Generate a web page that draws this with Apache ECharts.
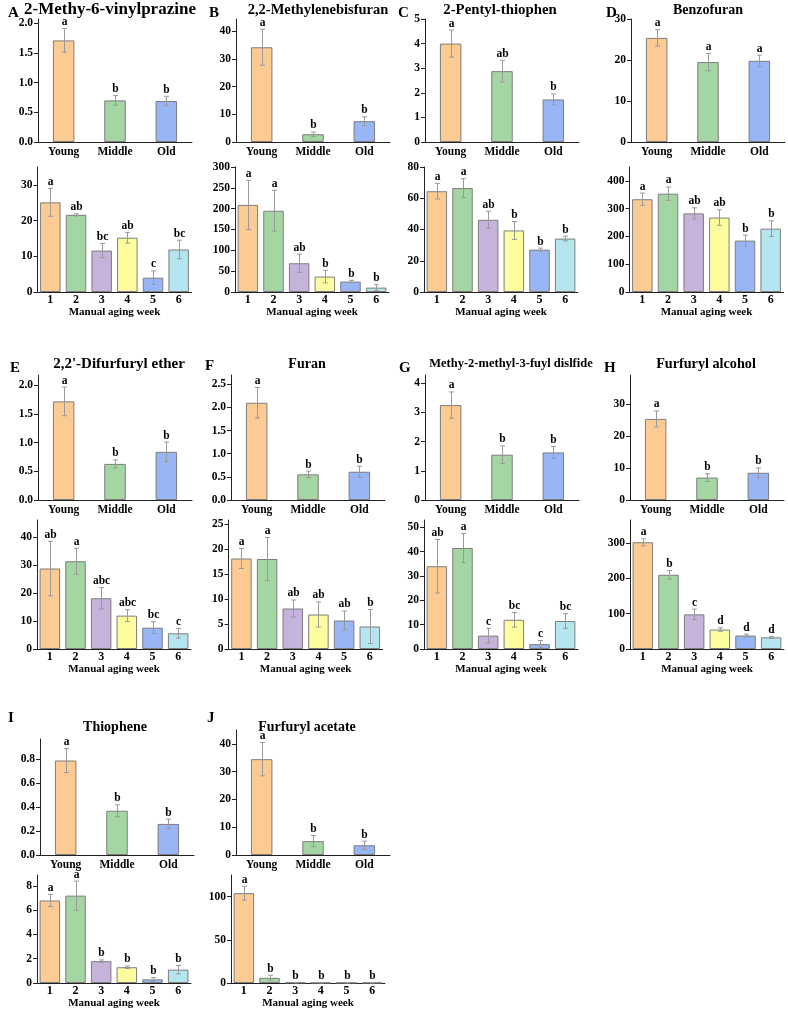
<!DOCTYPE html>
<html><head><meta charset="utf-8">
<script src="https://cdn.jsdelivr.net/npm/echarts@6/dist/echarts.min.js"></script>
<style>html,body{margin:0;padding:0;background:#fff}#c{width:788px;height:1029px}</style>
</head><body><div id="c"></div>
<script>
// ---------------- DATA ----------------
const ageCategories = ['Young', 'Middle', 'Old'];
const weekCategories = ['1', '2', '3', '4', '5', '6'];
const xAxisName = 'Manual aging week';
const panelLetters = ['A','B','C','D','E','F','G','H','I','J'];
const panelTitles = ['2-Methy-6-vinylprazine','2,2-Methylenebisfuran','2-Pentyl-thiophen','Benzofuran',
  "2,2'-Difurfuryl ether",'Furan','Methy-2-methyl-3-fuyl dislfide','Furfuryl alcohol','Thiophene','Furfuryl acetate'];

// A
const A_ageMean = [1.71, 0.70, 0.69];   const A_ageErr = [0.20, 0.08, 0.08];   const A_ageSig = ['a','b','b'];
const A_weekMean = [25.1, 21.6, 11.6, 15.2, 4.0, 11.9]; const A_weekErr = [3.9, 0.3, 2.0, 1.5, 1.9, 2.6];
const A_weekSig = ['a','ab','bc','ab','c','bc'];
const A_ageTicks = [0, 0.5, 1.0, 1.5, 2.0]; const A_weekTicks = [0, 10, 20, 30];
// B
const B_ageMean = [34.2, 2.8, 7.5];     const B_ageErr = [6.5, 0.8, 1.6];     const B_ageSig = ['a','b','b'];
const B_weekMean = [209, 195, 69, 37, 25, 10.5]; const B_weekErr = [59, 49, 22, 15, 3, 7];
const B_weekSig = ['a','a','ab','b','b','b'];
const B_ageTicks = [0, 10, 20, 30, 40]; const B_weekTicks = [0, 50, 100, 150, 200, 250, 300];
// C
const C_ageMean = [4.0, 2.88, 1.73];    const C_ageErr = [0.55, 0.44, 0.22];  const C_ageSig = ['a','ab','b'];
const C_weekMean = [64.5, 66.5, 46.2, 39.4, 27.1, 34.2]; const C_weekErr = [5, 6, 5.5, 5.7, 1, 1.5];
const C_weekSig = ['a','a','ab','b','b','b'];
const C_ageTicks = [0, 1, 2, 3, 4, 5]; const C_weekTicks = [0, 20, 40, 60, 80];
// D
const D_ageMean = [25.4, 19.5, 19.8];   const D_ageErr = [2.0, 2.1, 1.4];     const D_ageSig = ['a','a','a'];
const D_weekMean = [334, 354, 283, 268, 185, 228]; const D_weekErr = [22, 24, 20, 28, 20, 28];
const D_weekSig = ['a','a','ab','ab','b','b'];
const D_ageTicks = [0, 10, 20, 30]; const D_weekTicks = [0, 100, 200, 300, 400];
// E
const E_ageMean = [1.72, 0.63, 0.84];   const E_ageErr = [0.25, 0.07, 0.17];  const E_ageSig = ['a','b','b'];
const E_weekMean = [28.7, 31.3, 18.1, 11.9, 7.6, 5.6]; const E_weekErr = [9.7, 4.6, 3.8, 2.1, 2.1, 1.7];
const E_weekSig = ['ab','a','abc','abc','bc','c'];
const E_ageTicks = [0, 0.5, 1.0, 1.5, 2.0]; const E_weekTicks = [0, 10, 20, 30, 40];
// F
const F_ageMean = [2.10, 0.555, 0.61];  const F_ageErr = [0.33, 0.07, 0.12];  const F_ageSig = ['a','b','b'];
const F_weekMean = [18.1, 18.0, 8.1, 6.9, 5.7, 4.5]; const F_weekErr = [2.0, 4.3, 1.7, 2.5, 1.9, 3.4];
const F_weekSig = ['a','a','ab','ab','ab','b'];
const F_ageTicks = [0, 0.5, 1.0, 1.5, 2.0, 2.5]; const F_weekTicks = [0, 5, 10, 15, 20, 25];
// G
const G_ageMean = [3.25, 1.55, 1.63];   const G_ageErr = [0.45, 0.30, 0.20];  const G_ageSig = ['a','b','b'];
const G_weekMean = [34, 41.5, 5.5, 12, 2, 11.5]; const G_weekErr = [11, 6, 3, 3, 1.5, 3];
const G_weekSig = ['ab','a','c','bc','c','bc'];
const G_ageTicks = [0, 1, 2, 3, 4]; const G_weekTicks = [0, 10, 20, 30, 40, 50];
// H
const H_ageMean = [25.3, 7.0, 8.5];     const H_ageErr = [2.5, 1.2, 1.5];     const H_ageSig = ['a','b','b'];
const H_weekMean = [302, 210, 98, 55, 38, 33]; const H_weekErr = [10, 12, 15, 5, 4, 3];
const H_weekSig = ['a','b','c','d','d','d'];
const H_ageTicks = [0, 10, 20, 30]; const H_weekTicks = [0, 100, 200, 300];
// I
const I_ageMean = [0.79, 0.37, 0.26];   const I_ageErr = [0.10, 0.05, 0.04];  const I_ageSig = ['a','b','b'];
const I_weekMean = [6.8, 7.2, 1.8, 1.3, 0.3, 1.1]; const I_weekErr = [0.5, 1.2, 0.1, 0.1, 0.15, 0.35];
const I_weekSig = ['a','a','b','b','b','b'];
const I_ageTicks = [0, 0.2, 0.4, 0.6, 0.8]; const I_weekTicks = [0, 2, 4, 6, 8];
// J
const J_ageMean = [34.5, 5.0, 3.5];     const J_ageErr = [6, 2, 1.5];         const J_ageSig = ['a','b','b'];
const J_weekMean = [104, 6, 0.5, 0.3, 0.3, 0.3]; const J_weekErr = [8, 3, 0.2, 0.2, 0.2, 0.2];
const J_weekSig = ['a','b','b','b','b','b'];
const J_ageTicks = [0, 10, 20, 30, 40]; const J_weekTicks = [0, 50, 100];

// ---------------- LAYOUT (positions / styles only) ----------------
const FONT = '"Liberation Serif","Times New Roman",serif';
const ageColors = ['#FCCB93', '#A3D6A2', '#98B6F5'];
const weekColors = ['#FCCB93', '#A3D6A2', '#C6B3DB', '#FDFDA0', '#98B6F5', '#B5E5EE'];

const panels = [
  {age:[A_ageMean,A_ageErr,A_ageSig,A_ageTicks], week:[A_weekMean,A_weekErr,A_weekSig,A_weekTicks],
   L:{tx:38, bx:37.5, top:[19,142,2.07], bot:[167,292,35], dec:1, letter:[8,13], title:[110,10,17]}},
  {age:[B_ageMean,B_ageErr,B_ageSig,B_ageTicks], week:[B_weekMean,B_weekErr,B_weekSig,B_weekTicks],
   L:{tx:236, bx:235, top:[19,142,44.4], bot:[167,292,300], dec:0, letter:[209,13], title:[318,10,14.5]}},
  {age:[C_ageMean,C_ageErr,C_ageSig,C_ageTicks], week:[C_weekMean,C_weekErr,C_weekSig,C_weekTicks],
   L:{tx:425, bx:424, top:[19,142,5], bot:[167,292,80], dec:0, letter:[398,13], title:[500,10,14.8]}},
  {age:[D_ageMean,D_ageErr,D_ageSig,D_ageTicks], week:[D_weekMean,D_weekErr,D_weekSig,D_weekTicks],
   L:{tx:631, bx:629.5, top:[19,142,30], bot:[167,292,450], dec:0, letter:[606,13], title:[708,10,14]}},
  {age:[E_ageMean,E_ageErr,E_ageSig,E_ageTicks], week:[E_weekMean,E_weekErr,E_weekSig,E_weekTicks],
   L:{tx:38, bx:37, top:[375,500,2.18], bot:[520,649,46], dec:1, letter:[10,368], title:[119,364,15]}},
  {age:[F_ageMean,F_ageErr,F_ageSig,F_ageTicks], week:[F_weekMean,F_weekErr,F_weekSig,F_weekTicks],
   L:{tx:231, bx:228.6, top:[375,500,2.7], bot:[520,649,25.8], dec:1, letter:[205,366], title:[307,364,14]}},
  {age:[G_ageMean,G_ageErr,G_ageSig,G_ageTicks], week:[G_weekMean,G_weekErr,G_weekSig,G_weekTicks],
   L:{tx:425, bx:424, top:[375,500,4.28], bot:[520,649,53], dec:0, letter:[399,368], title:[511,364,12.5]}},
  {age:[H_ageMean,H_ageErr,H_ageSig,H_ageTicks], week:[H_weekMean,H_weekErr,H_weekSig,H_weekTicks],
   L:{tx:630, bx:630, top:[375,500,39], bot:[520,649,365], dec:0, letter:[604,368], title:[706,364,14.2]}},
  {age:[I_ageMean,I_ageErr,I_ageSig,I_ageTicks], week:[I_weekMean,I_weekErr,I_weekSig,I_weekTicks],
   L:{tx:40, bx:37, top:[739,855,0.97], bot:[875,983,8.9], dec:1, letter:[8,718], title:[115,727,14]}},
  {age:[J_ageMean,J_ageErr,J_ageSig,J_ageTicks], week:[J_weekMean,J_weekErr,J_weekSig,J_weekTicks],
   L:{tx:236, bx:231, top:[730,855,45], bot:[875,983,125], dec:0, letter:[207,718], title:[307,727,14]}}
];

const grids = [], xAxes = [], yAxes = [], series = [], graphics = [];
const W = 154;

function addPlot(cats, colors, d, x, yr, dec, isWeek) {
  const [mean, err, sig, ticks] = d;
  const gi = grids.length;
  grids.push({left: x, top: yr[0], width: W, height: yr[1] - yr[0]});
  xAxes.push({
    type: 'category', gridIndex: gi, data: cats,
    axisLine: {lineStyle: {color: '#222', width: 1}},
    axisTick: {alignWithLabel: true, length: 4, lineStyle: {color: '#222'}},
    axisLabel: {fontFamily: FONT, fontWeight: 'bold', fontSize: isWeek ? 12 : 11.5, color: '#000', margin: isWeek ? 2 : 4, interval: 0},
    name: isWeek ? xAxisName : '', nameLocation: 'middle', nameGap: 11.5,
    nameTextStyle: {fontFamily: FONT, fontWeight: 'bold', fontSize: 11, color: '#000'}
  });
  yAxes.push({
    type: 'value', gridIndex: gi, min: 0, max: yr[2], interval: ticks[1] - ticks[0],
    axisLine: {show: true, lineStyle: {color: '#222', width: 1}},
    axisTick: {show: true, length: 4, lineStyle: {color: '#222'}, customValues: ticks},
    axisLabel: {customValues: ticks, fontFamily: FONT, fontWeight: 'bold', fontSize: 11.5, color: '#000', margin: 5,
      formatter: v => Number(v).toFixed(isWeek ? 0 : dec)},
    splitLine: {show: false}
  });
  series.push({
    type: 'bar', xAxisIndex: gi, yAxisIndex: gi, barWidth: isWeek ? 20.5 : 21.5, silent: true, animation: false,
    itemStyle: {borderColor: '#7d7d7d', borderWidth: 1},
    data: mean.map((v, i) => ({value: v, itemStyle: {color: colors[i]}}))
  });
  series.push({
    type: 'custom', xAxisIndex: gi, yAxisIndex: gi, silent: true, animation: false, z: 5,
    encode: {x: 0, y: 1},
    data: mean.map((v, i) => [i, v, err[i]]),
    renderItem: (params, api) => {
      const i = api.value(0), v = api.value(1), e = api.value(2);
      const pT = api.coord([i, v + e]), pB = api.coord([i, Math.max(0, v - e)]);
      const cx = Math.round(pT[0]) + 0.5, cw = 2.5;
      const st = {stroke: '#9a9a9a', lineWidth: 1};
      return {type: 'group', children: [
        {type: 'line', shape: {x1: cx, y1: pT[1], x2: cx, y2: pB[1]}, style: st},
        {type: 'line', shape: {x1: cx - cw, y1: pT[1], x2: cx + cw, y2: pT[1]}, style: st},
        {type: 'line', shape: {x1: cx - cw, y1: pB[1], x2: cx + cw, y2: pB[1]}, style: st},
        {type: 'text', x: cx, y: pT[1] - 0.5, style: {text: sig[params.dataIndex], font: 'bold 11.5px ' + FONT,
          fill: '#000', align: 'center', verticalAlign: 'bottom'}}
      ]};
    }
  });
}

panels.forEach((p, k) => {
  const L = p.L;
  addPlot(ageCategories, ageColors, p.age, L.tx, L.top, L.dec, false);
  addPlot(weekCategories, weekColors, p.week, L.bx, L.bot, 0, true);
  graphics.push({type: 'text', x: L.letter[0], y: L.letter[1],
    style: {text: panelLetters[k], font: 'bold 15px ' + FONT, fill: '#000', align: 'left', verticalAlign: 'middle'}});
  graphics.push({type: 'text', x: L.title[0], y: L.title[1],
    style: {text: panelTitles[k], font: 'bold ' + L.title[2] + 'px ' + FONT, fill: '#000', align: 'center', verticalAlign: 'middle'}});
});

const chart = echarts.init(document.getElementById('c'), null, {renderer: 'canvas'});
chart.setOption({
  animation: false, backgroundColor: '#fff',
  grid: grids, xAxis: xAxes, yAxis: yAxes, series: series, graphic: graphics
});
</script></body></html>
